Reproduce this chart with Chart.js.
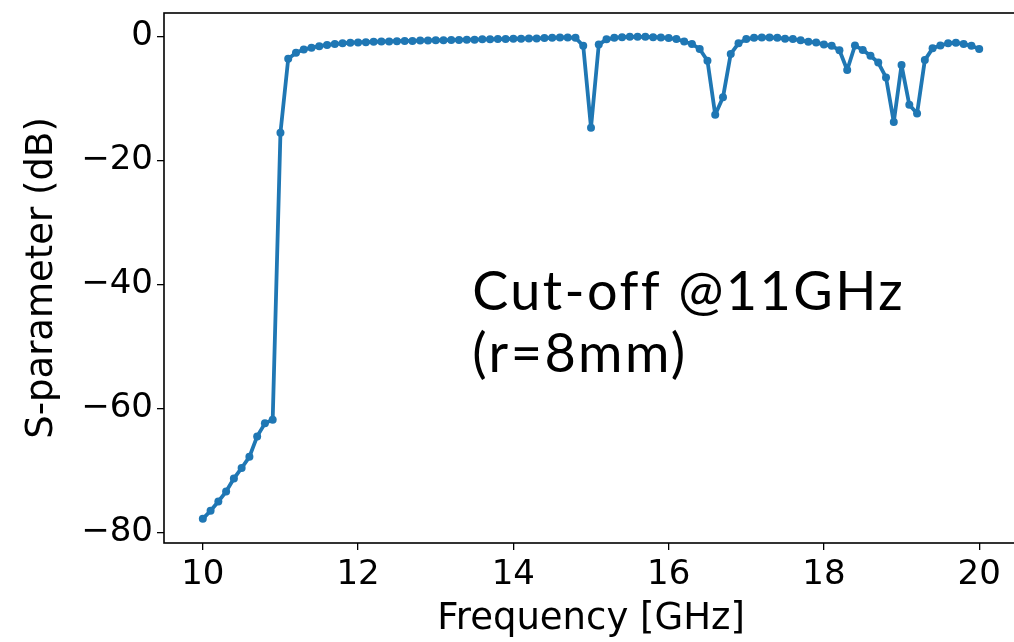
<!DOCTYPE html>
<html>
<head>
<meta charset="utf-8">
<script src="https://cdn.jsdelivr.net/npm/chart.js@4.4.0/dist/chart.umd.min.js"></script>
<style>
  html, body { margin: 0; padding: 0; background: #fff; overflow: hidden; }
  #wrap { width: 1022px; height: 642px; }
</style>
</head>
<body>
<div id="wrap"><canvas id="sparam" width="1022" height="642"></canvas></div>
<script>
// frequency points, 10 to 20 GHz in 0.1 GHz steps
const freqs = [
  10.0, 10.1, 10.2, 10.3, 10.4, 10.5, 10.6, 10.7, 10.8, 10.9,
  11.0, 11.1, 11.2, 11.3, 11.4, 11.5, 11.6, 11.7, 11.8, 11.9,
  12.0, 12.1, 12.2, 12.3, 12.4, 12.5, 12.6, 12.7, 12.8, 12.9,
  13.0, 13.1, 13.2, 13.3, 13.4, 13.5, 13.6, 13.7, 13.8, 13.9,
  14.0, 14.1, 14.2, 14.3, 14.4, 14.5, 14.6, 14.7, 14.8, 14.9,
  15.0, 15.1, 15.2, 15.3, 15.4, 15.5, 15.6, 15.7, 15.8, 15.9,
  16.0, 16.1, 16.2, 16.3, 16.4, 16.5, 16.6, 16.7, 16.8, 16.9,
  17.0, 17.1, 17.2, 17.3, 17.4, 17.5, 17.6, 17.7, 17.8, 17.9,
  18.0, 18.1, 18.2, 18.3, 18.4, 18.5, 18.6, 18.7, 18.8, 18.9,
  19.0, 19.1, 19.2, 19.3, 19.4, 19.5, 19.6, 19.7, 19.8, 19.9,
  20.0
];

// S-parameter in dB
const sdb = [
  -77.8, -76.5, -75.0, -73.4, -71.3, -69.6, -67.8, -64.5, -62.4, -61.8,
  -15.5, -3.6, -2.6, -2.1, -1.8, -1.55, -1.35, -1.2, -1.1, -1.0,
  -0.95, -0.9, -0.85, -0.8, -0.78, -0.75, -0.7, -0.7, -0.65, -0.62,
  -0.6, -0.6, -0.55, -0.55, -0.5, -0.5, -0.45, -0.45, -0.4, -0.4,
  -0.35, -0.35, -0.3, -0.3, -0.25, -0.2, -0.15, -0.15, -0.2, -1.5,
  -14.7, -1.3, -0.45, -0.2, -0.1, -0.05, -0.05, -0.05, -0.1, -0.15,
  -0.25, -0.4, -0.8, -1.2, -2.0, -3.9, -12.6, -9.8, -2.8, -1.1,
  -0.4, -0.2, -0.15, -0.15, -0.2, -0.35, -0.4, -0.6, -0.85, -0.95,
  -1.3, -1.5, -2.2, -5.4, -1.45, -2.15, -3.1, -4.2, -6.6, -13.8,
  -4.6, -11.0, -12.4, -3.8, -1.9, -1.45, -1.1, -1.0, -1.2, -1.5,
  -2.0
];

const xTicks = [10, 12, 14, 16, 18, 20];
const yTicks = [0, -20, -40, -60, -80];
const noteLines = ['Cut-off @11GHz', '(r=8mm)'];

const blue = '#1f77b4';
const tickFont = { family: 'DejaVu Sans', size: 34 };
const titleFont = { family: 'DejaVu Sans', size: 37 };

// matplotlib style box round the axes + the text note
const boxAndNote = {
  id: 'boxAndNote',
  afterDraw(chart) {
    const ctx = chart.ctx;
    const a = chart.chartArea;
    ctx.save();
    ctx.strokeStyle = '#000';
    ctx.lineWidth = 1.6;
    ctx.strokeRect(a.left, a.top, a.right - a.left, a.bottom - a.top);

    const xs = chart.scales.x, ys = chart.scales.y;
    ctx.fillStyle = '#000';
    ctx.font = '400 54px Lato';
    ctx.letterSpacing = '2.4px';
    ctx.textBaseline = 'alphabetic';
    ctx.textAlign = 'left';
    ctx.fillText(noteLines[0], xs.getPixelForValue(13.47), ys.getPixelForValue(-44.1));
    ctx.fillText(noteLines[1], xs.getPixelForValue(13.47), ys.getPixelForValue(-54.1));
    ctx.restore();
  }
};

new Chart(document.getElementById('sparam'), {
  type: 'line',
  data: {
    datasets: [{
      data: freqs.map((f, i) => ({ x: f, y: sdb[i] })),
      borderColor: blue,
      backgroundColor: blue,
      borderWidth: 3.8,
      borderJoinStyle: 'round',
      pointRadius: 4,
      pointBorderWidth: 0,
      pointHoverRadius: 4,
      tension: 0
    }]
  },
  options: {
    responsive: false,
    animation: false,
    layout: { padding: { top: 13, right: 2, left: 0, bottom: 0 } },
    plugins: {
      legend: { display: false },
      tooltip: { enabled: false }
    },
    scales: {
      x: {
        type: 'linear',
        min: 9.5,
        max: 20.5,
        afterBuildTicks: s => { s.ticks = xTicks.map(v => ({ value: v })); },
        afterFit: s => { s.height = 99; s.paddingLeft = 0; s.paddingRight = 0; },
        grid: { drawOnChartArea: false, color: '#000', tickLength: 7, lineWidth: 1.3 },
        border: { display: false },
        ticks: { color: '#000', font: tickFont, padding: 5, maxRotation: 0, autoSkip: false },
        title: { display: true, text: 'Frequency [GHz]', color: '#000', font: titleFont, padding: { top: 0, bottom: 0 } }
      },
      y: {
        min: -81.7,
        max: 3.8,
        afterBuildTicks: s => { s.ticks = yTicks.map(v => ({ value: v })); },
        afterFit: s => { s.width = 164; s.paddingTop = 0; s.paddingBottom = 0; },
        grid: { drawOnChartArea: false, color: '#000', tickLength: 7, lineWidth: 1.3 },
        border: { display: false },
        ticks: {
          color: '#000', font: tickFont, padding: 4, autoSkip: false,
          callback: v => (v < 0 ? '\u2212' + Math.abs(v) : String(v))
        },
        title: { display: true, text: 'S-parameter (dB)', color: '#000', font: titleFont, padding: { top: 20, bottom: 0 } }
      }
    }
  },
  plugins: [boxAndNote]
});
</script>
</body>
</html>
